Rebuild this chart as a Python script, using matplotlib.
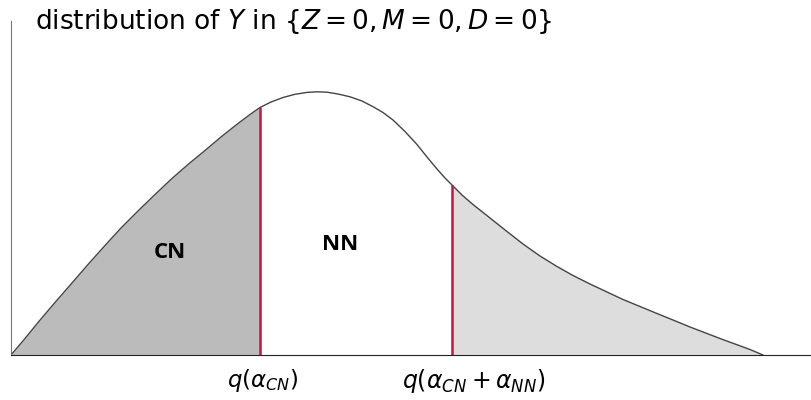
import numpy as np
from matplotlib import pyplot as plt

# density curve
xs = [0.00, 0.14, 0.27, 0.44, 0.61, 0.77, 0.94, 1.10, 1.27, 1.44, 1.61, 1.77,
      1.94, 2.10, 2.27, 2.39, 2.49, 2.60, 2.72, 2.84, 2.96, 3.06, 3.16, 3.27,
      3.39, 3.51, 3.62, 3.72, 3.82, 3.94, 4.06, 4.16, 4.26, 4.34, 4.41, 4.51,
      4.62, 4.79, 4.96, 5.12, 5.29, 5.46, 5.62, 5.79, 5.96, 6.12, 6.29, 6.46,
      6.62, 6.79, 6.96, 7.09, 7.24, 7.39, 7.52]
dens = [0.00, 0.165, 0.325, 0.525, 0.72, 0.905, 1.095, 1.27, 1.44, 1.605, 1.765, 1.905,
        2.045, 2.18, 2.315, 2.405, 2.475, 2.53, 2.575, 2.607, 2.626, 2.632, 2.628, 2.61,
        2.582, 2.54, 2.483, 2.425, 2.35, 2.235, 2.105, 1.98, 1.86, 1.77, 1.70, 1.60,
        1.505, 1.37, 1.235, 1.11, 0.99, 0.885, 0.795, 0.71, 0.63, 0.555, 0.485, 0.415,
        0.35, 0.28, 0.215, 0.165, 0.11, 0.055, 0.00]
q_cn = 2.49
q_cnnn = 4.41
tick_labels = [r"$q(\alpha_{CN})$", r"$q(\alpha_{CN}+\alpha_{NN})$"]
regions = ["CN", "NN"]

plt.rcParams["mathtext.fontset"] = "dejavusans"

x = np.array(xs)
y = np.array(dens)

fig = plt.figure(figsize=(8.12, 4.0), dpi=100)
ax = fig.add_axes([11 / 812, 45 / 400, 801 / 812, 334 / 400])

ax.fill_between(x, y, where=x <= q_cn, color="#bbbbbb", lw=0, interpolate=True)
ax.fill_between(x, y, where=x >= q_cnnn, color="#dddddd", lw=0, interpolate=True)
ax.plot(x, y, color="#444444", lw=1)

for q in (q_cn, q_cnnn):
    ax.vlines(q, 0, np.interp(q, x, y), color="#c8143c", lw=1.8)

ax.text(1.59, 1.02, regions[0], ha="center", va="center", fontsize=16,
        fontweight="bold", family="Open Sans")
ax.text(3.29, 1.10, regions[1], ha="center", va="center", fontsize=16,
        fontweight="bold", family="Open Sans")

ax.text(2.52, -0.26, tick_labels[0], ha="center", va="center", fontsize=16.5)
ax.text(4.63, -0.26, tick_labels[1], ha="center", va="center", fontsize=17)

ax.set_xlim(0, 8.01)
ax.set_ylim(0, 3.34)
ax.set_xticks([])
ax.set_yticks([])
for s in ("top", "right"):
    ax.spines[s].set_visible(False)
ax.spines["left"].set_color("#777777")
ax.spines["bottom"].set_color("#222222")

fig.text(35 / 812, 1 - 21 / 400,
         r"distribution of $Y$ in $\left\{Z=0,M=0,D=0\right\}$",
         ha="left", va="center", fontsize=19)

plt.savefig("out.png", dpi=100)
